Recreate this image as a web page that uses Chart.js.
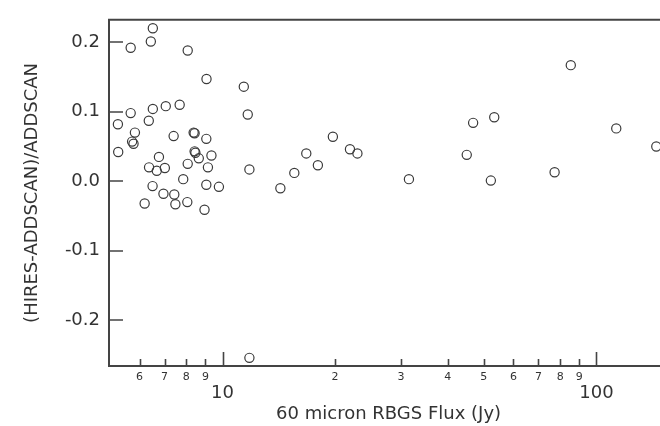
<!DOCTYPE html>
<html><head><meta charset="utf-8">
<script src="https://cdn.jsdelivr.net/npm/chart.js@4/dist/chart.umd.min.js"></script>
<style>
html,body{margin:0;padding:0;background:#fff;overflow:hidden;width:660px;height:426px}
#wrap{width:674px;height:426px;position:relative}
</style>
</head><body><div id="wrap"><canvas id="c" width="674" height="426"></canvas></div>
<script>
// 60 micron RBGS flux (Jy)
const fluxJy = [6.51,6.43,5.68,8.07,9.06,5.68,6.51,7.05,7.68,5.25,
  6.35,5.83,5.73,5.78,7.40,8.37,8.42,9.05,5.26,8.42,
  8.46,9.34,8.64,6.76,8.07,6.36,6.67,7.01,9.14,7.85,
  6.50,9.05,9.78,6.95,7.43,6.19,7.48,8.05,8.95,11.40,
  11.68,11.80,11.80,14.28,15.56,16.75,17.99,19.73,21.92,22.95,
  31.52,45.0,46.8,53.3,52.2,77.3,85.4,113.0,144.6];
// (HIRES-ADDSCAN)/ADDSCAN
const ratio = [0.220,0.201,0.192,0.188,0.147,0.098,0.104,0.108,0.110,0.082,
  0.087,0.070,0.057,0.054,0.065,0.070,0.069,0.061,0.042,0.043,
  0.041,0.037,0.033,0.035,0.025,0.020,0.015,0.019,0.020,0.003,
  -0.007,-0.005,-0.008,-0.018,-0.019,-0.032,-0.033,-0.030,-0.041,0.136,
  0.096,0.017,-0.254,-0.010,0.012,0.040,0.023,0.064,0.046,0.040,
  0.003,0.038,0.084,0.092,0.001,0.013,0.167,0.076,0.050];
const yTickValues = [-0.2,-0.1,0,0.1,0.2];
const xMinorTicks = [6,7,8,9,20,30,40,50,60,70,80,90];
const xMajorTicks = [10,100];
const xTickValues = [6,7,8,9,10,20,30,40,50,60,70,80,90,100];

const FONT = 'DejaVu Sans';
const INK = '#3a3a3a';

const innerTicks = {
  id: 'innerTicks',
  afterDraw(chart) {
    const {ctx, chartArea: a, scales: {x, y}} = chart;
    ctx.save();
    ctx.strokeStyle = '#444';
    ctx.lineWidth = 2;
    ctx.beginPath();
    ctx.moveTo(a.left - 1, a.top); ctx.lineTo(a.right, a.top);
    ctx.stroke();
    ctx.lineWidth = 1.6;
    ctx.beginPath();
    yTickValues.forEach(v => {
      const py = Math.round(y.getPixelForValue(v));
      ctx.moveTo(a.left, py); ctx.lineTo(a.left + 14, py);
    });
    xTickValues.forEach(v => {
      const px = Math.round(x.getPixelForValue(v)) + 0.5;
      const len = xMajorTicks.includes(v) ? 14 : 7;
      ctx.moveTo(px, a.bottom); ctx.lineTo(px, a.bottom - len);
    });
    ctx.stroke();
    ctx.restore();
  }
};

new Chart(document.getElementById('c'), {
  type: 'scatter',
  data: {
    datasets: [{
      data: fluxJy.map((f, i) => ({x: f, y: ratio[i]})),
      pointStyle: 'circle',
      pointRadius: 4.6,
      pointBorderWidth: 1.2,
      borderColor: INK,
      pointBorderColor: INK,
      backgroundColor: 'rgba(0,0,0,0)',
      pointBackgroundColor: 'rgba(0,0,0,0)',
      showLine: false
    }]
  },
  options: {
    responsive: false,
    animation: false,
    devicePixelRatio: 1,
    layout: {padding: {left: 22, top: 10, right: 4, bottom: 1}},
    plugins: {legend: {display: false}, tooltip: {enabled: false}},
    scales: {
      x: {
        type: 'logarithmic',
        min: 4.97, max: 155.6,
        grid: {display: false, drawTicks: false},
        border: {display: true, color: '#444', width: 2},
        afterBuildTicks: s => { s.ticks = xTickValues.map(v => ({value: v, major: xMajorTicks.includes(v)})); },
        afterFit: s => { s.height = 59; },
        ticks: {
          autoSkip: false, maxRotation: 0, minRotation: 0, padding: 5, color: '#333',
          callback: v => xMajorTicks.includes(v) ? ['', String(v)] : String(v >= 10 ? v / 10 : v),
          font: ctx => {
            const major = ctx.tick && xMajorTicks.includes(ctx.tick.value);
            return major ? {family: FONT, size: 18, lineHeight: 0.84} : {family: FONT, size: 11, lineHeight: 1.2};
          }
        },
        title: {display: true, text: '60 micron RBGS Flux (Jy)', color: '#333',
          font: {family: FONT, size: 18}, padding: {top: 0, bottom: 0}}
      },
      y: {
        type: 'linear',
        min: -0.2657, max: 0.2322,
        grid: {display: false, drawTicks: false},
        border: {display: true, color: '#444', width: 2},
        afterBuildTicks: s => { s.ticks = yTickValues.map(v => ({value: v})); },
        afterFit: s => { s.width = 87; },
        ticks: {padding: 9, color: '#333', font: {family: FONT, size: 18},
          callback: v => Number(v).toFixed(1)},
        title: {display: true, text: '(HIRES-ADDSCAN)/ADDSCAN', color: '#333',
          font: {family: FONT, size: 18}, padding: {top: 0, bottom: 0}}
      }
    }
  },
  plugins: [innerTicks]
});
</script>
</body></html>
